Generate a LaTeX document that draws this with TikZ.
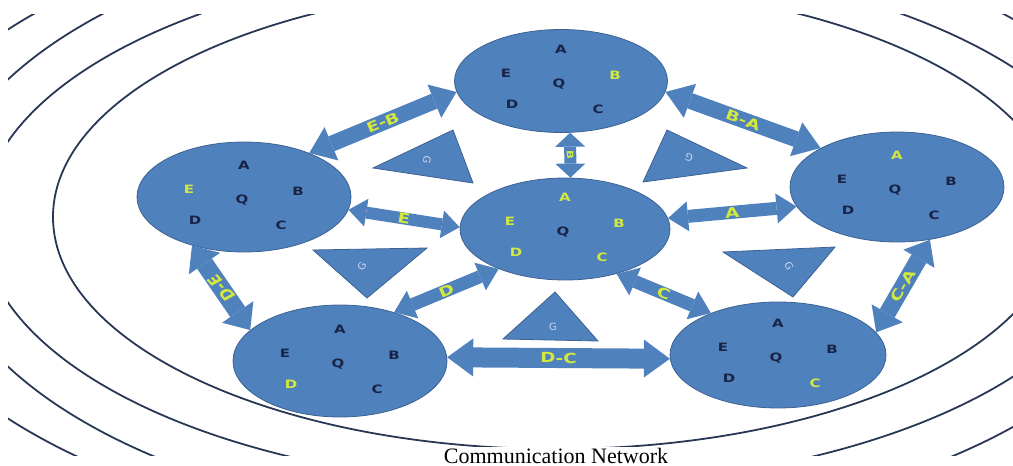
\documentclass[tikz,border=0pt]{standalone}
\usepackage{fontspec}
\setmainfont{Liberation Serif}
\newfontfamily\lblfont{DejaVu Sans}
\usetikzlibrary{shapes.geometric,arrows.meta}

\definecolor{nodeblue}{RGB}{79,129,189}
\definecolor{edgeblue}{RGB}{60,98,146}
\definecolor{ringcol}{RGB}{40,55,85}
\definecolor{ltrnavy}{RGB}{25,35,70}
\definecolor{ltryel}{RGB}{212,232,62}
\definecolor{gcol}{RGB}{205,218,240}

\tikzset{
  station/.style={ellipse, fill=nodeblue, draw=edgeblue, line width=0.8pt, inner sep=0pt},
  ltr/.style={font=\lblfont\bfseries\fontsize{11.5}{11.5}\selectfont, xscale=1.3, inner sep=0pt},
  ring/.style={draw=ringcol, line width=1.8pt},
  gtri/.style={fill=nodeblue, draw=edgeblue, line width=0.8pt, line join=miter},
  glabel/.style={font=\lblfont\fontsize{10}{10}\selectfont, text=gcol, inner sep=0pt},
  link/.style n args={3}{draw=nodeblue, line width=#1,
    arrows={Triangle[width=#2,length=#3,line width=0pt]-Triangle[width=#2,length=#3,line width=0pt]}},
  linklabel/.style={font=\lblfont\bfseries\fontsize{14}{14}\selectfont,
    text=ltryel, inner sep=0pt, xscale=1.3},
}

\newcommand\stationletters[7]{%
  \node[ltr,text=#2] at ([shift={(0,-32)}]#1.center) {A};
  \node[ltr,text=#3] at ([shift={(-55,-8)}]#1.center) {E};
  \node[ltr,text=#4] at ([shift={(54,-6)}]#1.center) {B};
  \node[ltr,text=#5] at ([shift={(-2,3)}]#1.center) {Q};
  \node[ltr,text=#6] at ([shift={(-49,23)}]#1.center) {D};
  \node[ltr,text=#7] at ([shift={(37,28)}]#1.center) {C};
}

\begin{document}
\begin{tikzpicture}[x=1pt,y=-1pt]
\useasboundingbox (0,0) rectangle (1013,466);

% concentric rings
\begin{scope}
  \clip (8,14) rectangle (1013,455);
  \draw[ring] (556,217) ellipse [x radius=503, y radius=232];
  \draw[ring] (551,222) ellipse [x radius=570, y radius=264];
  \draw[ring] (553,223) ellipse [x radius=617, y radius=306];
  \draw[ring] (548,224) ellipse [x radius=674, y radius=325];
\end{scope}

% stations
\node[station, minimum width=213pt, minimum height=103pt] (nTop)   at (561,81)  {};
\node[station, minimum width=214pt, minimum height=110pt] (nLeft)  at (244,197) {};
\node[station, minimum width=210pt, minimum height=102pt] (nMid)   at (565,229) {};
\node[station, minimum width=214pt, minimum height=110pt] (nRight) at (897,187) {};
\node[station, minimum width=214pt, minimum height=112pt] (nBL)    at (340,361) {};
\node[station, minimum width=216pt, minimum height=106pt] (nBR)    at (778,355) {};

\stationletters{nTop}{ltrnavy}{ltrnavy}{ltryel}{ltrnavy}{ltrnavy}{ltrnavy}
\stationletters{nLeft}{ltrnavy}{ltryel}{ltrnavy}{ltrnavy}{ltrnavy}{ltrnavy}
\stationletters{nMid}{ltryel}{ltryel}{ltryel}{ltrnavy}{ltryel}{ltryel}
\stationletters{nRight}{ltryel}{ltrnavy}{ltrnavy}{ltrnavy}{ltrnavy}{ltrnavy}
\stationletters{nBL}{ltrnavy}{ltrnavy}{ltrnavy}{ltrnavy}{ltryel}{ltrnavy}
\stationletters{nBR}{ltrnavy}{ltrnavy}{ltrnavy}{ltrnavy}{ltrnavy}{ltryel}

% G triangles
\draw[gtri] (373,168) -- (453,130) -- (473,183) -- cycle;
\node[glabel, rotate=-100] (g1) at (427,160) {G};
\draw[gtri] (643,182) -- (667,130) -- (747,168) -- cycle;
\node[glabel, rotate=160] (g2) at (689,158) {G};
\draw[gtri] (313,250) -- (427,248) -- (367,298) -- cycle;
\node[glabel, rotate=60] (g3) at (362,266) {G};
\draw[gtri] (503,339) -- (555,292) -- (598,341) -- cycle;
\node[glabel] (g4) at (553,327) {G};
\draw[gtri] (723,252) -- (835,247) -- (793,297) -- cycle;
\node[glabel, rotate=-60] (g5) at (789,266) {G};

% links
\draw[link={16pt}{36pt}{24pt}] (nLeft.34) -- (nTop.186)
  node[linklabel, midway, sloped] {E-B};
\draw[link={16pt}{36pt}{26pt}] (nTop.354) -- (nRight.153)
  node[linklabel, midway, sloped] {B-A};
\draw[link={12pt}{30pt}{14pt}] (nTop.280) -- (nMid.84)
  node[linklabel, midway, sloped, font=\lblfont\bfseries\fontsize{9}{9}\selectfont] {B};
\draw[link={12pt}{28pt}{18pt}] (nLeft.353) -- (nMid.179)
  node[linklabel, midway, sloped] {E};
\draw[link={13pt}{30pt}{20pt}] (nMid.6) -- (nRight.191)
  node[linklabel, midway, sloped] {A};
\draw[link={18pt}{38pt}{22pt}] (nLeft.223) -- (nBL.161)
  node[linklabel, midway, rotate=125] {D-E};
\draw[link={13pt}{30pt}{20pt}] (nBL.42) -- (nMid.211)
  node[linklabel, midway, sloped] {D};
\draw[link={13pt}{30pt}{20pt}] (nMid.319) -- (nBR.148)
  node[linklabel, midway, sloped] {C};
\draw[link={17pt}{36pt}{22pt}] (nRight.302) -- (nBR.13)
  node[linklabel, midway, sloped] {C-A};
\draw[link={20pt}{38pt}{26pt}] (nBL.2) -- (nBR.182)
  node[linklabel, midway, sloped] {D-C};

% caption
\node[fill=white, inner sep=1pt, anchor=base, font=\fontsize{22}{22}\selectfont] (cap) at (556,463) {Communication Network};
\end{tikzpicture}
\end{document}
